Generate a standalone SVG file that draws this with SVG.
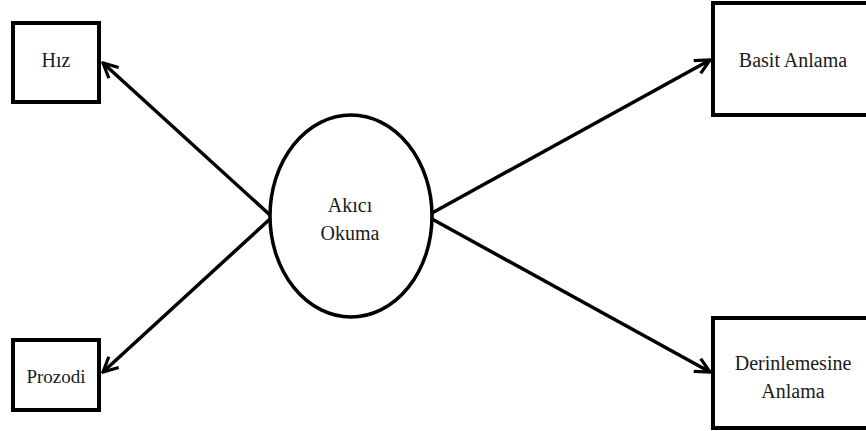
<svg xmlns="http://www.w3.org/2000/svg" width="866" height="431" viewBox="0 0 866 431">
<defs>
<style>
.box{fill:#fff;stroke:#000;stroke-width:4}
.ell{fill:#fff;stroke:#000;stroke-width:3.5}
.lbl{font-family:"Liberation Serif","Times New Roman",serif;font-size:20px;fill:#1a1a1a;text-anchor:middle}
.conn{stroke:#000;stroke-width:3.5;fill:none;marker-end:url(#arr)}
</style>
<marker id="arr" viewBox="0 0 12 12" refX="11" refY="6" markerWidth="5" markerHeight="5" orient="auto" markerUnits="strokeWidth">
<path d="M1,1 L11,6 L1,11" fill="none" stroke="#000" stroke-width="2.2"/>
</marker>
</defs>
<rect width="866" height="431" fill="#fff"/>
<g id="connectors">
<line class="conn" x1="270" y1="215" x2="103" y2="63"/>
<line class="conn" x1="270" y1="219" x2="103" y2="372"/>
<line class="conn" x1="432" y1="213" x2="710" y2="60"/>
<line class="conn" x1="432" y1="219" x2="710" y2="372"/>
</g>
<g id="hiz">
<rect class="box" x="13" y="23" width="86" height="79"/>
<text class="lbl" x="56" y="67">Hız</text>
</g>
<g id="prozodi">
<rect class="box" x="13" y="340" width="86" height="70"/>
<text class="lbl" x="56" y="383" style="font-size:19px">Prozodi</text>
</g>
<g id="akici-okuma">
<ellipse class="ell" cx="351" cy="216" rx="81" ry="101"/>
<text class="lbl" x="350" y="212">Akıcı</text>
<text class="lbl" x="350" y="240">Okuma</text>
</g>
<g id="basit-anlama">
<rect class="box" x="713" y="3" width="160" height="112"/>
<text class="lbl" x="793" y="67">Basit Anlama</text>
</g>
<g id="derinlemesine-anlama">
<rect class="box" x="713" y="318" width="160" height="110"/>
<text class="lbl" x="793" y="370">Derinlemesine</text>
<text class="lbl" x="793" y="398">Anlama</text>
</g>
</svg>
